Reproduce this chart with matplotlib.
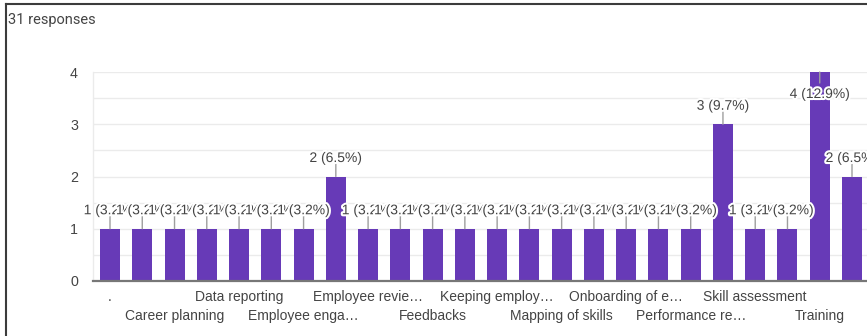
import matplotlib
matplotlib.use("Agg")
import matplotlib.pyplot as plt
import matplotlib.patheffects as pe
from matplotlib.lines import Line2D

# Response counts per option (31 responses in total)
counts = [1, 1, 1, 1, 1, 1, 1, 2, 1, 1, 1, 1,
          1, 1, 1, 1, 1, 1, 1, 3, 1, 1, 4, 2]
total_responses = 31

# Axis labels, shown on every second bar in two staggered rows
tick_labels = [".", "Career planning", "Data reporting", "Employee enga\u2026",
               "Employee revie\u2026", "Feedbacks", "Keeping employ\u2026",
               "Mapping of skills", "Onboarding of e\u2026", "Performance re\u2026",
               "Skill assessment", "Training"]
y_ticks = [0, 1, 2, 3, 4]

BAR = "#673ab7"
TEXT = "#444444"
GRID = "#ebebeb"
DPI = 100
W, H = 867, 336


def pt(px):
    return px * 72.0 / DPI


fig = plt.figure(figsize=(W / DPI, H / DPI), dpi=DPI)
fig.patch.set_facecolor("white")

ax_left, ax_right, ax_top, ax_bot = 93, 869, 72, 281
ax = fig.add_axes([ax_left / W, 1 - ax_bot / H,
                   (ax_right - ax_left) / W, (ax_bot - ax_top) / H])

x = list(range(len(counts)))
ax.bar(x, counts, width=0.62, color=BAR, zorder=2)
ax.set_xlim(-0.527, len(counts) - 0.473)
ax.set_ylim(0, 4)

# gridlines every half unit
for g in [0.5 * i for i in range(1, 9)]:
    ax.axhline(g, color=GRID, lw=1.0, zorder=0)

for s in ["top", "right"]:
    ax.spines[s].set_visible(False)
ax.spines["left"].set_color(GRID)
ax.spines["left"].set_linewidth(1.0)
ax.spines["bottom"].set_color("#777777")
ax.spines["bottom"].set_linewidth(1.6)
ax.spines["bottom"].set_zorder(3)

ax.set_yticks(y_ticks)
ax.set_yticklabels([str(v) for v in y_ticks], family="Liberation Sans",
                   fontsize=10.3, color=TEXT)
ax.tick_params(axis="y", length=0, pad=pt(15))

# staggered category labels
ax.set_xticks([])
for i, lab in enumerate(tick_labels):
    pos = 2 * i
    drop = 16 if i % 2 == 0 else 35
    ax.annotate(lab, xy=(pos, 0), xytext=(0, -pt(drop)),
                textcoords="offset points", ha="center", va="center",
                family="Liberation Sans", fontsize=10, color=TEXT,
                annotation_clip=False)

# value labels with leader lines and white halo
halo = [pe.withStroke(linewidth=3, foreground="white")]
for i, v in enumerate(counts):
    pct = 100.0 * v / total_responses
    label = f"{v} ({pct:.1f}%)"
    if v >= ax.get_ylim()[1]:
        line_end, text_off = -pt(11), -pt(22)
    else:
        line_end, text_off = pt(14), pt(18.5)
    ax.annotate("", xy=(i, v), xytext=(0, line_end), textcoords="offset points",
                arrowprops=dict(arrowstyle="-", color="#9e9e9e", lw=1.0,
                                shrinkA=0, shrinkB=0),
                annotation_clip=False, zorder=4)
    ax.annotate(label, xy=(i, v), xytext=(0, text_off), textcoords="offset points",
                ha="center", va="center", family="Liberation Sans", fontsize=10,
                color=TEXT, path_effects=halo, annotation_clip=False, zorder=5)

fig.text(8 / W, 1 - 20 / H, f"{total_responses} responses", family="Roboto",
         fontsize=10.5, color="#444444", ha="left", va="center")

# card border on the left and top
fig.add_artist(Line2D([5.5 / W, 5.5 / W], [0, 1 - 3.5 / H], transform=fig.transFigure,
                      color="#3c3c3c", lw=1.5))
fig.add_artist(Line2D([5.5 / W, 1], [1 - 3.5 / H, 1 - 3.5 / H], transform=fig.transFigure,
                      color="#3c3c3c", lw=1.5))

fig.savefig("out.png", dpi=DPI, facecolor="white")
